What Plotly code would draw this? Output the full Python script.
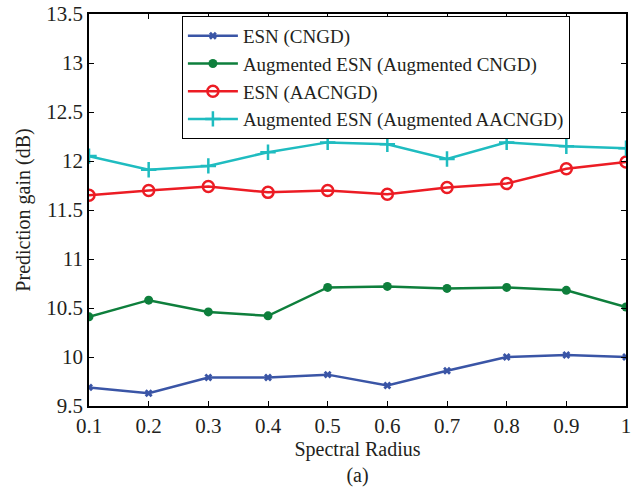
import plotly.graph_objects as go

radius = [0.1, 0.2, 0.3, 0.4, 0.5, 0.6, 0.7, 0.8, 0.9, 1.0]
esn_cngd = [9.69, 9.63, 9.79, 9.79, 9.82, 9.71, 9.86, 10.00, 10.02, 10.00]
aug_cngd = [10.41, 10.58, 10.46, 10.42, 10.71, 10.72, 10.70, 10.71, 10.68, 10.51]
esn_aacngd = [11.65, 11.70, 11.74, 11.68, 11.70, 11.66, 11.73, 11.77, 11.92, 11.99]
aug_aacngd = [12.05, 11.91, 11.95, 12.09, 12.19, 12.17, 12.02, 12.19, 12.15, 12.13]

x_ticks = [0.1, 0.2, 0.3, 0.4, 0.5, 0.6, 0.7, 0.8, 0.9, 1]
x_tick_labels = ["0.1", "0.2", "0.3", "0.4", "0.5", "0.6", "0.7", "0.8", "0.9", "1"]
y_ticks = [9.5, 10, 10.5, 11, 11.5, 12, 12.5, 13, 13.5]
y_tick_labels = ["9.5", "10", "10.5", "11", "11.5", "12", "12.5", "13", "13.5"]

FONT = "Liberation Serif"
TXT = "#231f20"

fig = go.Figure()
fig.add_trace(go.Scatter(x=radius, y=esn_cngd, name="ESN (CNGD)", mode="lines+markers",
                         line=dict(color="#3a55a6", width=2.5),
                         marker=dict(symbol="x", size=7, color="#3a55a6")))
fig.add_trace(go.Scatter(x=radius, y=aug_cngd, name="Augmented ESN (Augmented CNGD)", mode="lines+markers",
                         line=dict(color="#0e7f3c", width=2.5),
                         marker=dict(symbol="circle", size=9, color="#0e7f3c")))
fig.add_trace(go.Scatter(x=radius, y=esn_aacngd, name="ESN (AACNGD)", mode="lines+markers",
                         line=dict(color="#ec1c24", width=2.5),
                         marker=dict(symbol="circle-open", size=11, color="#ec1c24", line=dict(width=2.5))))
fig.add_trace(go.Scatter(x=radius, y=aug_aacngd, name="Augmented ESN (Augmented AACNGD)", mode="lines+markers",
                         line=dict(color="#1fbcc0", width=2.5),
                         marker=dict(symbol="cross-thin-open", size=11, color="#1fbcc0", line=dict(width=2.5))))

axis_common = dict(showgrid=False, zeroline=False, showline=True, linecolor="black", linewidth=1.5,
                   mirror="ticks", ticks="inside", ticklen=5, tickcolor="black", tickwidth=1,
                   automargin=False, ticklabeloverflow="allow",
                   tickfont=dict(family=FONT, size=21, color=TXT))

fig.update_xaxes(range=[0.1, 1.0], tickvals=x_ticks, ticktext=x_tick_labels,
                 title=dict(text="Spectral Radius<br>(a)", font=dict(family=FONT, size=20, color=TXT), standoff=4),
                 **axis_common)
fig.update_yaxes(range=[9.5, 13.5], tickvals=y_ticks, ticktext=y_tick_labels,
                 title=dict(text="Prediction gain (dB)", font=dict(family=FONT, size=20, color=TXT), standoff=10),
                 **axis_common)

fig.update_layout(
    width=644, height=500,
    margin=dict(l=89, r=18, t=14, b=94, autoexpand=False),
    paper_bgcolor="white", plot_bgcolor="white",
    font=dict(family=FONT, size=21, color=TXT),
    showlegend=True,
    legend=dict(x=0.173, y=0.995, xanchor="left", yanchor="top",
                bgcolor="white", bordercolor="black", borderwidth=1,
                font=dict(family=FONT, size=19, color=TXT),
                tracegroupgap=0, itemwidth=50, entrywidth=360, entrywidthmode="pixels"),
)

fig.write_html("out.html", config={"displayModeBar": False},
               post_script="document.body.style.margin='0';")
